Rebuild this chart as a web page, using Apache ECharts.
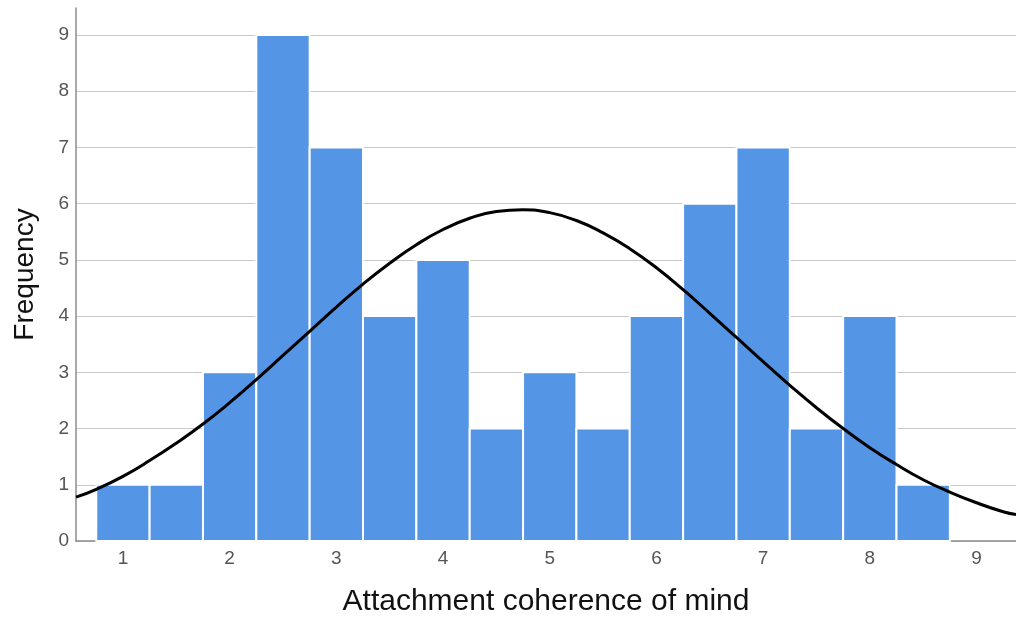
<!DOCTYPE html>
<html>
<head>
<meta charset="utf-8">
<script src="https://cdn.jsdelivr.net/npm/echarts@6/dist/echarts.min.js"></script>
<style>
html,body{margin:0;padding:0;background:#fff;}
#chart{width:1016px;height:619px;}
</style>
</head>
<body>
<div id="chart"></div>
<script>
// Histogram bins (lower edge) and counts
const binStarts = [0.75,1.25,1.75,2.25,2.75,3.25,3.75,4.25,4.75,5.25,5.75,6.25,6.75,7.25,7.75,8.25];
const binWidth = 0.5;
const counts = [1,1,3,9,7,4,5,2,3,2,4,6,7,2,4,1];
// Normal curve points
const curveX = [0.56,0.75,1,1.25,1.5,1.75,2,2.25,2.5,2.75,3,3.25,3.5,3.75,4,4.25,4.5,4.75,5,5.25,5.5,5.75,6,6.25,6.5,6.75,7,7.25,7.5,7.75,8,8.25,8.5,8.75,9,9.25,9.37];
const curveY = [0.78,0.92,1.15,1.43,1.74,2.08,2.46,2.87,3.30,3.73,4.16,4.57,4.94,5.27,5.54,5.74,5.86,5.89,5.84,5.70,5.48,5.20,4.86,4.47,4.05,3.62,3.19,2.77,2.37,2.00,1.66,1.36,1.09,0.87,0.68,0.52,0.47];
const xTicks = [1,2,3,4,5,6,7,8,9];
const yTicks = [0,1,2,3,4,5,6,7,8,9];

const histData = binStarts.map((s,i)=>[s, s+binWidth, counts[i]]);
const curveData = curveX.map((x,i)=>[x, curveY[i]]);

const font = '"Liberation Sans", Arial, sans-serif';
const chart = echarts.init(document.getElementById('chart'));
chart.setOption({
  animation:false,
  backgroundColor:'#fff',
  grid:{left:76, top:8, right:0, bottom:78, containLabel:false, outerBoundsMode:'none'},
  xAxis:{
    type:'value', min:0.56, max:9.37,
    name:'Attachment coherence of mind', nameLocation:'middle', nameGap:46,
    nameTextStyle:{fontSize:30, color:'#111', fontFamily:font},
    axisLine:{show:true, lineStyle:{color:'#8c8c8c', width:1.5}},
    axisTick:{show:false, customValues:xTicks},
    axisLabel:{customValues:xTicks, fontSize:19, color:'#555', fontFamily:font, margin:8},
    splitLine:{show:false}
  },
  yAxis:{
    type:'value', min:0, max:9.48,
    name:'Frequency', nameLocation:'middle', nameGap:37,
    nameTextStyle:{fontSize:28, color:'#111', fontFamily:font},
    axisLine:{show:true, lineStyle:{color:'#8c8c8c', width:1.5}},
    axisTick:{show:false, customValues:yTicks},
    axisLabel:{customValues:yTicks, fontSize:19, color:'#555', fontFamily:font, margin:7},
    splitLine:{show:true, lineStyle:{color:'#c8c8c8', width:1}}
  },
  series:[
    {
      type:'custom',
      data:histData,
      encode:{x:[0,1], y:2},
      renderItem:function(params, api){
        const p0 = api.coord([api.value(0), api.value(2)]);
        const p1 = api.coord([api.value(1), 0]);
        return {
          type:'rect',
          shape:{x:p0[0], y:p0[1], width:p1[0]-p0[0], height:p1[1]-p0[1]},
          style:{fill:'#5595e5', stroke:'#ffffff', lineWidth:2}
        };
      },
      z:2
    },
    {
      type:'line',
      data:curveData,
      smooth:true,
      showSymbol:false,
      lineStyle:{color:'#000', width:3},
      z:3
    }
  ]
});
</script>
</body>
</html>
